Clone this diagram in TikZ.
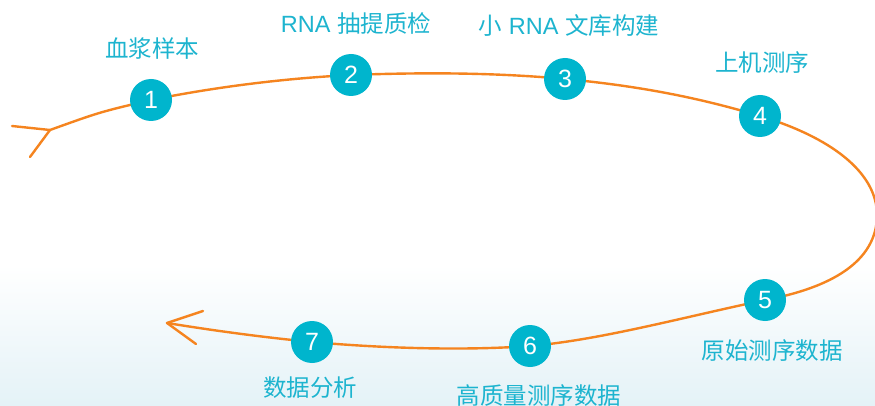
\documentclass[tikz,border=0pt]{standalone}
\usepackage{fontspec}
\setmainfont{Liberation Sans}
\newfontfamily\cjk{Noto Sans CJK SC}
\definecolor{stepcyan}{HTML}{00B5CD}
\definecolor{labcyan}{HTML}{1DB4CF}
\definecolor{flow}{HTML}{F5841F}
\definecolor{bgbot}{HTML}{E4F2F7}
\begin{document}
\begin{tikzpicture}[x=1pt,y=-1pt,
  stepdot/.style={circle,fill=stepcyan,minimum size=42pt,inner sep=0pt,text=white,font=\fontsize{25}{25}\selectfont},
  steplabel/.style={text=labcyan,font=\fontsize{23.5}{24}\selectfont,inner sep=0pt},
  flowline/.style={draw=flow,line width=2.4pt,line cap=round,line join=round}]
\useasboundingbox (0,0) rectangle (875,406);
\fill[white] (0,0) rectangle (875,406);
\shade[top color=white,bottom color=bgbot] (0,265) rectangle (875,406);
\coordinate (tail) at (50,130);
\coordinate (t1) at (12,126);
\coordinate (t2) at (30,157);
\coordinate (tip) at (167,323);
\coordinate (h1) at (203,311);
\coordinate (h2) at (196,344);
\coordinate (c1) at (151,100);
\coordinate (c2) at (351,75);
\coordinate (c3) at (565,79);
\coordinate (c4) at (760,116);
\coordinate (rt) at (877,215);
\coordinate (c5) at (765,300);
\coordinate (c6) at (530,346);
\coordinate (c7) at (312,342);
\begin{scope}
\clip (0,0) rectangle (875,406);
\draw[flowline] (tail) .. controls (100,112) .. (c1)
  .. controls (220,86) and (290,78) .. (c2)
  .. controls (430,72) and (500,73) .. (c3)
  .. controls (640,86) and (700,98) .. (c4)
  .. controls (830,137) and (877,172) .. (rt)
  .. controls (877,262) and (830,288) .. (c5)
  .. controls (680,318) and (600,340) .. (c6)
  .. controls (460,351) and (380,348) .. (c7)
  .. controls (260,337) and (210,330) .. (tip);
\draw[flowline] (t1) -- (tail) -- (t2);
\draw[flowline] (h1) -- (tip) -- (h2);
\end{scope}
\node[stepdot] (s1) at (c1) {1};
\node[stepdot] (s2) at (c2) {2};
\node[stepdot] (s3) at (c3) {3};
\node[stepdot] (s4) at (c4) {4};
\node[stepdot] (s5) at (c5) {5};
\node[stepdot] (s6) at (c6) {6};
\node[stepdot] (s7) at (c7) {7};
\node[steplabel] (l1) at (152,49) {\cjk 血浆样本};
\node[steplabel] (l2) at (356,23) {RNA {\cjk 抽提质检}};
\node[steplabel] (l3) at (569,26) {{\cjk 小} RNA {\cjk 文库构建}};
\node[steplabel] (l4) at (762,63) {\cjk 上机测序};
\node[steplabel] (l5) at (772,351) {\cjk 原始测序数据};
\node[steplabel] (l6) at (539,396) {\cjk 高质量测序数据};
\node[steplabel] (l7) at (310,388) {\cjk 数据分析};
\end{tikzpicture}
\end{document}
